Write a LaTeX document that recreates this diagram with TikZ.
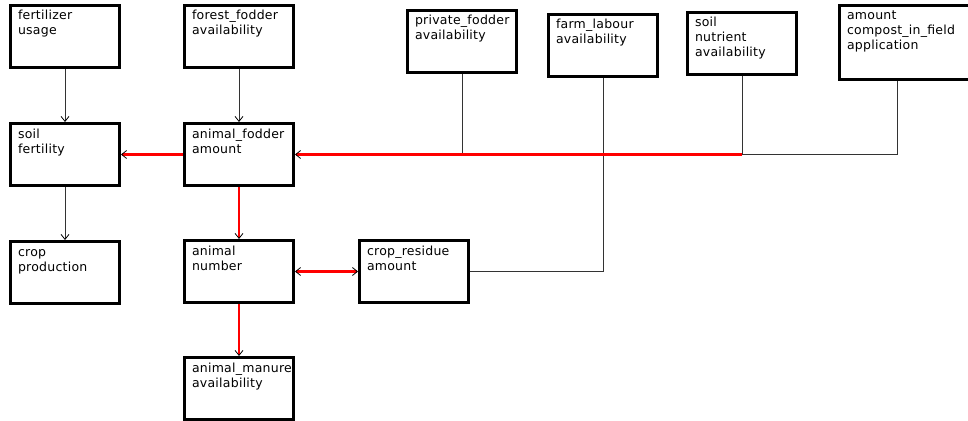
\documentclass[tikz,border=0pt]{standalone}
\usepackage{fontspec}
\setmainfont{DejaVu Sans}[LetterSpace=2]
\usetikzlibrary{arrows.meta}
\begin{document}
\begin{tikzpicture}[
      x=1pt, y=-1pt,
      var/.style={draw, line width=3pt, anchor=north west, inner xsep=7.5pt, inner ysep=4pt,
        text width=94pt, text height=10.5pt, text depth=43.5pt, align=left,
        font=\fontsize{12.5}{15}\selectfont},
      link/.style={draw=black!80, line width=0.9pt},
      flow/.style={draw=red, line width=2.8pt},
      >={Straight Barb[length=5pt, width=8pt, line width=0.8pt, color=black]}
  ]
  \useasboundingbox (0,0) rectangle (968,420);

  % Nodes of the two left columns
  \node[var] (fertilizer) at (9,4) {fertilizer\\usage};
  \node[var] (soilfert) at (9,122) {soil\\fertility};
  \node[var] (crop) at (9,240) {crop\\production};
  \node[var] (forest) at (183,4) {forest\_fodder\\availability};
  \node[var] (fodder) at (183,122) {animal\_fodder\\amount};
  \node[var] (number) at (183,239) {animal\\number};
  \node[var] (manure) at (183,356) {animal\_manure\\availability};
  \node[var] (residue) at (358,239) {crop\_residue\\amount};

  % Nodes along the top
  \node[var] (private) at (406,9) {private\_fodder\\availability};
  \node[var] (labour) at (547,13) {farm\_labour\\availability};
  \node[var] (nutrient) at (686,11) {soil\\nutrient\\availability};
  \node[var, text width=150pt, text depth=55.5pt] (compost) at (838,4) {amount\\compost\_in\_field\\application};

  % Junctions on the fodder line
  \coordinate (jn) at (nutrient.south |- fodder.east);
  \coordinate (jp) at (private.south |- fodder.east);

  % Arrows
  \draw[link,->] (fertilizer) -- (soilfert);
  \draw[link,->] (soilfert) -- (crop);
  \draw[link,->] (forest) -- (fodder);
  \draw[link] (private) -- (jp);
  \draw[link] (nutrient) -- (jn);
  \draw[link] ([xshift=59pt]compost.south west) |- (jn);
  \draw[link] (labour.south) |- (residue);
  \draw[flow,->] (jn) -- (fodder);
  \draw[flow,->] (fodder) -- (soilfert);
  \draw[flow,->] (fodder) -- (number);
  \draw[flow,->] (number) -- (manure);
  \draw[flow,<->] (number) -- (residue);

  \end{tikzpicture}
\end{document}
